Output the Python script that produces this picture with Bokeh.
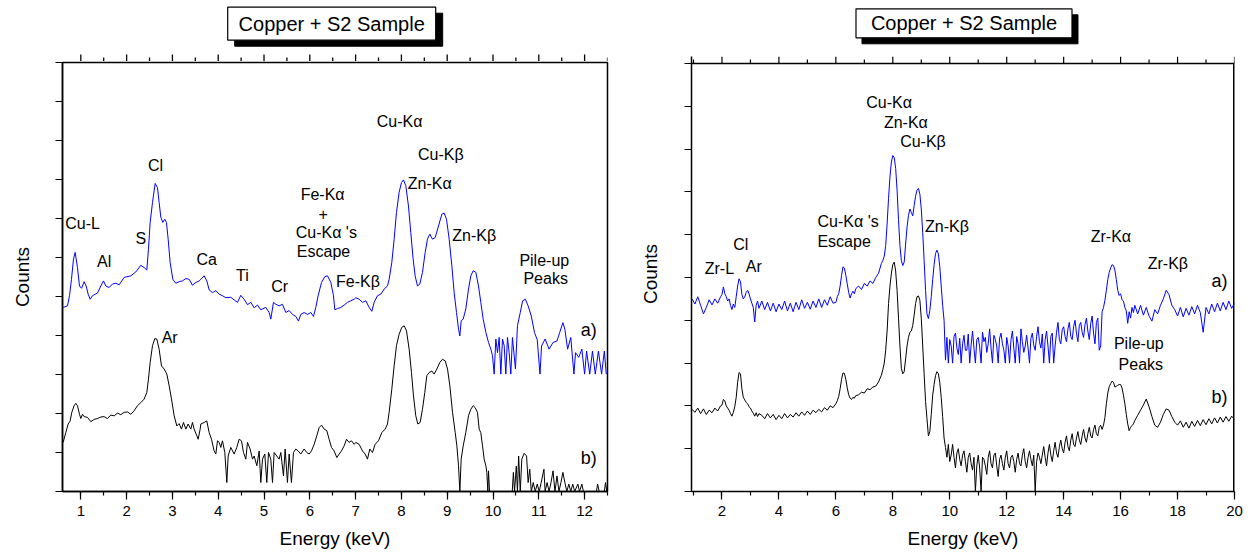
from bokeh.plotting import figure
from bokeh.layouts import row, column
from bokeh.models import Range1d, SingleIntervalTicker, ColumnDataSource
from bokeh.core.properties import value
from bokeh.embed import file_html
from bokeh.resources import INLINE

FONT = "Liberation Sans"

# ---------------- LEFT PANEL DATA (0.6 - 12.5 keV) ----------------
left_a_energy = [0.614,0.709,0.753,0.796,0.840,0.876,0.927,0.971,1.015,1.073,1.116,1.160,1.204,1.255,1.364,1.437,1.495,1.546,1.619,1.691,
 1.764,1.837,1.946,2.092,2.201,2.310,2.383,2.441,2.477,2.514,2.565,2.623,2.674,2.710,2.747,2.790,2.834,2.870,2.907,2.951,
 3.009,3.074,3.147,3.220,3.293,3.365,3.438,3.511,3.584,3.620,3.693,3.751,3.802,3.875,3.948,4.020,4.093,4.166,4.275,4.348,
 4.421,4.493,4.566,4.639,4.712,4.785,4.857,4.930,5.039,5.112,5.148,5.207,5.258,5.330,5.403,5.476,5.549,5.622,5.694,5.753,
 5.803,5.876,5.949,6.022,6.080,6.131,6.182,6.255,6.328,6.386,6.459,6.517,6.546,6.604,6.677,6.750,6.823,6.896,6.968,7.004,
 7.077,7.150,7.223,7.296,7.354,7.404,7.477,7.550,7.623,7.696,7.732,7.790,7.841,7.892,7.950,8.001,8.045,8.096,8.154,8.205,
 8.256,8.300,8.351,8.402,8.460,8.519,8.569,8.620,8.679,8.737,8.810,8.883,8.934,8.985,9.043,9.101,9.152,9.203,9.247,9.276,
 9.305,9.349,9.406,9.465,9.516,9.567,9.625,9.683,9.734,9.785,9.844,9.902,9.953,9.989,10.025,10.062,10.098,10.135,10.171,10.207,
 10.244,10.280,10.316,10.353,10.389,10.425,10.490,10.534,10.595,10.647,10.707,10.767,10.836,10.905,10.966,11.026,11.060,11.138,11.224,11.310,
 11.397,11.457,11.526,11.569,11.629,11.698,11.767,11.802,11.871,11.940,12.000,12.043,12.112,12.172,12.233,12.302,12.371,12.431,12.474]
left_a_counts = [4.72,4.76,5.02,5.44,5.96,6.13,5.74,5.27,5.21,5.38,5.27,5.06,4.93,5.02,5.09,5.27,5.40,5.27,5.23,5.32,
 5.34,5.30,5.49,5.53,5.63,5.80,5.74,5.68,6.21,6.90,7.41,7.90,7.79,7.41,7.03,6.90,6.98,6.90,6.47,5.87,
 5.44,5.34,5.38,5.40,5.46,5.44,5.29,5.36,5.40,5.44,5.53,5.40,5.17,5.10,5.15,5.06,5.02,4.97,4.98,4.91,
 4.85,5.03,4.93,4.79,4.85,4.71,4.78,4.66,4.72,4.59,4.42,4.85,4.80,4.76,4.80,4.59,4.64,4.54,4.49,4.37,
 4.54,4.59,4.54,4.59,4.49,4.72,5.02,5.36,5.51,5.53,5.36,5.02,4.66,4.69,4.72,4.78,4.85,4.89,4.93,4.97,
 4.93,4.85,4.89,4.72,4.62,4.85,5.02,5.06,5.19,5.27,5.44,5.87,6.47,7.15,7.67,7.92,7.99,7.84,7.32,6.64,
 5.96,5.53,5.27,5.32,5.62,6.13,6.47,6.60,6.47,6.51,6.81,7.11,7.14,6.98,6.47,5.79,5.10,4.59,4.16,3.99,
 4.38,4.42,4.68,5.19,5.53,5.66,5.62,5.27,4.85,4.42,4.08,3.82,3.65,3.48,3.01,3.91,3.56,3.95,3.01,3.91,
 3.74,3.01,3.95,3.56,3.01,3.95,3.14,4.25,4.59,4.89,4.93,4.76,4.50,4.08,3.89,3.01,3.73,3.91,3.65,3.82,
 3.86,4.08,4.33,4.16,3.65,3.95,3.01,3.56,3.44,3.65,3.01,3.60,3.01,3.60,3.01,3.60,3.01,3.60,3.01]

left_b_energy = [0.614,0.672,0.723,0.767,0.803,0.854,0.891,0.927,0.971,1.000,1.036,1.073,1.146,1.218,1.291,1.364,1.437,1.509,1.582,1.655,
 1.728,1.801,1.873,1.946,2.019,2.092,2.164,2.237,2.310,2.383,2.441,2.477,2.514,2.565,2.616,2.659,2.710,2.761,2.820,2.878,
 2.929,2.980,3.038,3.096,3.147,3.198,3.242,3.293,3.343,3.402,3.438,3.474,3.533,3.562,3.606,3.620,3.693,3.751,3.802,3.853,
 3.911,3.948,3.984,4.020,4.057,4.093,4.144,4.188,4.217,4.275,4.348,4.406,4.457,4.508,4.552,4.603,4.639,4.697,4.748,4.785,
 4.843,4.894,4.930,4.967,5.017,5.061,5.098,5.148,5.185,5.221,5.279,5.330,5.367,5.425,5.461,5.512,5.549,5.599,5.643,5.694,
 5.745,5.803,5.876,5.934,5.985,6.036,6.095,6.153,6.204,6.255,6.313,6.371,6.422,6.473,6.531,6.590,6.640,6.691,6.750,6.801,
 6.858,6.910,6.968,7.004,7.077,7.150,7.208,7.259,7.310,7.368,7.426,7.499,7.572,7.645,7.696,7.732,7.790,7.841,7.892,7.950,
 8.009,8.060,8.111,8.169,8.220,8.264,8.314,8.358,8.409,8.460,8.511,8.555,8.606,8.664,8.715,8.774,8.839,8.897,8.956,9.007,
 9.058,9.116,9.175,9.211,9.247,9.276,9.305,9.349,9.406,9.465,9.516,9.567,9.610,9.661,9.698,9.734,9.771,9.807,9.844,9.865,
 9.887,9.902,9.924,10.420,10.445,10.470,10.509,10.534,10.560,10.595,10.629,10.681,10.733,10.767,10.802,10.836,10.879,10.922,10.966,11.009,
 11.052,11.112,11.138,11.181,11.224,11.267,11.310,11.353,11.397,11.440,11.483,11.526,11.569,11.612,11.655,11.698,11.741,11.784,11.853,11.888,
 11.940,11.974,12.259,12.284,12.319,12.431,12.457,12.483]
left_b_counts = [1.26,1.51,1.73,1.81,2.03,2.20,2.26,2.20,1.98,1.87,1.98,1.92,1.90,1.79,1.85,1.87,1.91,1.92,1.87,1.96,
 1.94,2.01,1.97,2.03,2.04,1.98,2.07,2.20,2.28,2.37,2.54,2.88,3.31,3.74,3.92,3.91,3.65,3.22,3.14,3.01,
 2.71,2.37,1.94,1.68,1.74,1.60,1.77,1.60,1.73,1.60,1.77,1.60,1.43,1.34,1.60,1.73,1.77,1.81,1.51,1.34,
 1.04,0.96,1.30,1.26,1.13,1.30,1.00,0.23,0.91,1.13,0.96,1.13,1.34,1.30,1.00,0.83,1.26,1.09,0.83,0.91,
 0.66,1.04,0.23,0.83,0.96,0.23,1.00,0.83,0.23,1.00,0.91,0.83,1.00,0.40,1.09,0.23,0.96,0.23,1.00,1.09,
 1.04,0.96,1.09,1.00,0.96,1.04,1.21,1.43,1.64,1.70,1.60,1.56,1.34,1.13,1.04,0.87,0.96,1.04,1.17,1.34,
 1.26,1.30,1.21,1.26,1.21,1.04,0.96,0.83,1.09,1.00,1.21,1.30,1.51,1.60,1.73,2.03,2.62,3.22,3.74,4.03,
 4.21,4.25,4.12,3.65,3.05,2.45,1.94,1.73,1.77,2.11,2.54,2.97,3.05,3.09,3.01,3.14,3.31,3.39,3.35,3.14,
 2.71,2.03,1.51,1.17,0.66,0.00,0.83,1.17,1.51,1.94,2.11,2.20,2.15,2.03,1.60,1.51,1.17,0.83,0.66,0.49,
 0.00,0.53,0.00,0.00,0.49,0.00,0.65,0.00,0.91,0.00,0.83,0.98,0.91,0.23,0.57,0.00,0.23,0.00,0.19,0.00,
 0.23,0.57,0.00,0.23,0.00,0.23,0.53,0.00,0.40,0.00,0.23,0.49,0.23,0.00,0.19,0.00,0.19,0.00,0.19,0.00,
 0.19,0.00,0.00,0.19,0.00,0.00,0.23,0.00]

# ---------------- RIGHT PANEL DATA (0.93 - 20 keV), three energy stretches ----------------
right_energy_low = [0.95,1.05,1.15,1.25,1.35,1.45,1.55,1.65,1.75,1.85,1.95,
 2.00,2.05,2.10,2.15,2.20,2.25,2.30,2.35,2.40,2.45,2.50,2.55,2.60,2.65,2.70,2.75,2.80,2.85,2.90,2.95,3.00,3.05,3.10,3.15,3.20,3.25,3.30,
 3.4,3.5,3.6,3.7,3.8,3.9,4.0,4.1,4.2,4.3,4.4,4.5,4.6,4.7,4.8,4.9,5.0,5.1,5.2,5.3,5.4,5.5,5.6,5.7,5.8,5.9,
 6.00,6.05,6.10,6.15,6.20,6.25,6.30,6.35,6.40,6.45,6.50,6.55,6.60,6.65,6.70,
 6.8,6.9,7.0,7.1,7.2,7.3,7.4,7.5,7.6,
 7.65,7.70,7.75,7.80,7.85,7.90,7.95,8.00,8.05,8.10,8.15,8.20,8.25,8.30,8.35,8.40,8.45,8.50,8.55,8.60,8.65,8.70,8.75,8.80,
 8.85,8.90,8.95,9.00,9.05,9.10,9.15,9.20,9.25,9.30,9.35,9.40,9.45,9.50,9.55,9.60,9.65,9.70,9.75,9.80,9.85,9.90,9.95]
right_a_low = [4.50,4.38,4.55,4.35,4.15,4.30,4.48,4.36,4.50,4.40,4.55,
 4.60,4.78,4.62,4.55,4.45,4.50,4.35,4.25,4.38,4.30,4.55,4.80,4.97,4.90,4.60,4.50,4.55,4.65,4.70,4.62,4.50,4.40,4.30,3.96,4.35,4.45,4.28,
 4.45,4.25,4.42,4.22,4.40,4.20,4.38,4.25,4.45,4.22,4.40,4.20,4.42,4.25,4.48,4.28,4.42,4.26,4.45,4.30,4.50,4.30,4.48,4.35,4.55,4.40,
 4.42,4.55,4.62,4.80,5.05,5.25,5.22,5.05,4.85,4.65,4.52,4.62,4.68,4.62,4.74,
 4.80,4.72,4.86,4.80,4.92,4.86,5.00,5.10,5.33,
 5.40,5.50,5.75,6.25,6.85,7.35,7.70,7.85,7.80,7.55,7.04,6.35,5.75,5.40,5.28,5.36,5.78,6.18,6.45,6.60,6.52,6.44,6.68,6.90,
 7.04,7.08,6.95,6.60,6.05,5.40,4.70,4.15,4.04,4.23,4.55,4.95,5.30,5.56,5.64,5.55,5.25,4.80,4.35,4.00,3.07,3.60,3.00]
right_b_low = [1.92,1.85,1.95,1.82,1.93,1.80,1.90,1.84,1.95,1.88,2.00,
 2.02,2.15,2.12,2.00,1.95,1.90,1.82,1.76,1.85,1.98,2.20,2.55,2.78,2.75,2.40,2.20,2.14,2.08,2.05,1.98,1.95,1.88,1.83,1.76,1.84,1.75,1.82,
 1.78,1.70,1.82,1.72,1.80,1.68,1.78,1.70,1.82,1.72,1.80,1.74,1.84,1.76,1.86,1.78,1.88,1.80,1.90,1.84,1.92,1.86,1.96,1.90,2.00,1.96,
 2.05,2.12,2.22,2.40,2.62,2.77,2.76,2.62,2.42,2.26,2.18,2.15,2.20,2.18,2.24,
 2.26,2.32,2.30,2.40,2.38,2.44,2.46,2.56,2.72,
 2.85,3.00,3.30,3.75,4.39,4.80,5.10,5.30,5.36,5.15,4.70,4.05,3.40,2.88,2.75,2.80,3.10,3.40,3.60,3.72,3.75,3.88,4.12,4.39,
 4.55,4.57,4.47,4.05,3.40,2.75,2.10,1.70,1.30,1.40,1.80,2.25,2.50,2.71,2.80,2.75,2.55,2.20,1.75,1.25,1.03,0.80,1.10]

right_energy_noise = [10.00,10.05,10.10,10.15,10.20,10.25,10.30,10.35,10.40,10.45,10.50,10.55,10.60,10.65,10.70,10.75,10.80,10.85,10.90,10.95,
 11.00,11.05,11.10,11.15,11.20,11.25,11.30,11.35,11.40,11.45,11.50,11.55,11.60,11.65,11.70,11.75,11.80,11.85,11.90,11.95,
 12.00,12.05,12.10,12.15,12.20,12.25,12.30,12.35,12.40,12.45,12.50,12.55,12.60,12.65,12.70,12.75,12.80,12.85,12.90,12.95,
 13.00,13.05,13.10,13.15,13.20,13.25,13.30,13.35,13.40,13.45,13.50,13.55,13.60,13.65,13.70,13.75,13.80,13.85,13.90,13.95,
 14.00,14.05,14.10,14.15,14.20,14.25,14.30,14.35,14.40,14.45,14.50,14.55,14.60,14.65,14.70,14.75,14.80,14.85,14.90,14.95,
 15.00,15.05,15.10,15.15,15.20,15.25,15.30]
right_a_noise = [3.55,3.40,3.00,3.62,3.70,3.35,3.20,3.58,3.00,3.45,3.65,3.30,3.30,3.68,3.00,3.42,3.75,3.35,3.00,3.55,
 3.60,3.38,3.00,3.72,3.50,3.60,3.25,3.45,3.80,3.35,3.00,3.65,3.55,3.40,3.00,3.58,3.70,3.45,3.30,3.00,
 3.60,3.40,3.00,3.55,3.75,3.35,3.00,3.62,3.45,3.00,3.80,3.50,3.25,3.40,3.65,3.35,3.00,3.58,3.70,3.42,
 3.30,3.62,3.85,3.50,3.35,3.68,3.00,3.55,3.75,3.40,3.00,3.62,3.70,3.00,3.40,3.72,3.95,3.55,3.45,3.78,
 3.85,3.62,3.50,3.80,3.95,3.62,3.55,3.85,4.00,3.70,3.50,3.88,3.95,3.72,3.60,3.90,4.05,3.75,3.55,3.92,
 4.10,3.70,3.45,3.95,4.05,3.30,3.40]
right_b_noise = [0.70,0.85,1.10,0.80,0.55,0.90,1.00,0.75,0.60,0.85,0.95,0.70,0.45,0.80,0.90,0.65,0.50,0.80,0.00,0.60,
 0.85,0.55,0.00,0.80,0.75,0.60,0.40,0.80,0.95,0.65,0.55,0.85,0.90,0.60,0.35,0.75,0.85,0.65,0.50,0.80,
 0.95,0.65,0.55,0.80,0.85,0.70,0.45,0.75,0.90,0.65,0.60,0.85,1.00,0.70,0.55,0.80,0.95,0.75,0.60,0.85,
 0.00,0.70,0.90,0.80,0.65,0.85,1.05,0.80,0.60,0.90,1.10,0.85,0.70,0.95,1.15,0.90,0.80,1.05,1.20,1.00,
 0.90,1.15,1.30,1.05,0.95,1.20,1.35,1.10,1.05,1.25,1.40,1.20,1.10,1.30,1.45,1.25,1.15,1.35,1.50,1.30,
 1.25,1.45,1.55,1.35,1.30,1.50,1.55]

right_energy_high = [15.35,15.40,15.45,15.50,15.55,15.60,15.65,15.70,15.75,15.80,15.85,15.90,15.95,16.00,16.05,16.10,16.15,16.20,16.25,16.30,16.35,16.40,16.45,16.50,
 16.6,16.7,16.8,16.9,17.0,17.1,17.2,17.3,17.4,17.5,17.6,17.7,17.8,17.9,18.0,18.1,18.2,18.3,18.4,18.5,
 18.6,18.7,18.8,18.9,19.0,19.1,19.2,19.3,19.4,19.5,19.6,19.7,19.8,19.9,20.0]
right_a_high = [4.20,4.30,4.47,4.70,4.95,5.12,5.22,5.30,5.28,5.17,4.95,4.70,4.58,4.62,4.48,4.45,4.30,4.22,3.93,4.20,4.05,4.30,4.18,4.35,
 4.15,4.35,4.12,4.30,4.10,3.98,4.25,4.15,4.35,4.50,4.70,4.60,4.35,4.25,4.10,4.30,4.08,4.28,4.12,4.32,
 4.15,4.35,4.18,3.72,4.30,4.15,4.38,4.20,4.40,4.22,4.42,4.25,4.45,4.28,4.40]
right_b_high = [1.45,1.55,1.73,2.05,2.30,2.45,2.52,2.58,2.55,2.44,2.46,2.48,2.50,2.50,2.42,2.25,2.05,1.80,1.58,1.42,1.50,1.54,1.58,1.66,
 1.78,1.90,2.02,2.16,1.98,1.75,1.55,1.50,1.62,1.80,1.93,1.90,1.75,1.62,1.55,1.65,1.50,1.62,1.48,1.64,
 1.52,1.66,1.54,1.68,1.56,1.70,1.58,1.72,1.60,1.74,1.62,1.75,1.64,1.76,1.68]

right_energy = right_energy_low + right_energy_noise + right_energy_high
right_a_counts = right_a_low + right_a_noise + right_a_high
right_b_counts = right_b_low + right_b_noise + right_b_high

# ---------------- TICKS (top axis) ----------------
left_major_ticks = [1, 2, 3, 4, 5, 6, 7, 8, 9, 10, 11, 12]
left_minor_ticks = [1.5, 2.5, 3.5, 4.5, 5.5, 6.5, 7.5, 8.5, 9.5, 10.5, 11.5, 12.5]
right_major_ticks = [2, 4, 6, 8, 10, 12, 14, 16, 18, 20]
right_minor_ticks = [1, 3, 5, 7, 9, 11, 13, 15, 17, 19]

# ---------------- ANNOTATIONS ----------------
left_notes_text = ["Cu-L", "Al", "S", "Cl", "Ca", "Ti", "Cr", "Fe-K\u03b1", "+", "Cu-K\u03b1 's", "Escape",
                   "Fe-K\u03b2", "Cu-K\u03b1", "Cu-K\u03b2", "Zn-K\u03b1", "Zn-K\u03b2", "Pile-up", "Peaks", "Ar"]
left_notes_x = [1.04, 1.51, 2.31, 2.63, 3.75, 4.53, 5.34, 6.28, 6.29, 6.36, 6.30,
                7.05, 7.96, 8.86, 8.62, 9.59, 11.12, 11.15, 2.94]
left_notes_y = [6.87, 5.89, 6.49, 8.37, 5.96, 5.55, 5.26, 7.62, 7.11, 6.64, 6.16,
                5.38, 9.50, 8.65, 7.91, 6.57, 5.93, 5.47, 3.96]
left_tags = ["a)", "b)"]
left_tags_x = [12.09, 12.09]
left_tags_y = [4.14, 0.85]

right_notes_text = ["Zr-L", "Cl", "Ar", "Cu-K\u03b1 's", "Escape", "Cu-K\u03b1", "Zn-K\u03b1", "Cu-K\u03b2",
                    "Zn-K\u03b2", "Zr-K\u03b1", "Zr-K\u03b2", "Pile-up", "Peaks"]
right_notes_x = [1.91, 2.66, 3.12, 6.43, 6.29, 7.87, 8.46, 9.06, 9.90, 15.66, 17.66, 16.64, 16.71]
right_notes_y = [5.20, 5.76, 5.26, 6.32, 5.83, 9.09, 8.62, 8.17, 6.19, 5.96, 5.33, 3.45, 2.96]
right_tags = ["a)", "b)"]
right_tags_x = [19.47, 19.47]
right_tags_y = [4.92, 2.20]

title_text = "Copper + S2 Sample"

TOTAL_H = 554


def style_axis(ax):
    ax.axis_line_width = 1.5
    ax.axis_line_color = "black"
    ax.major_tick_line_width = 1.2
    ax.minor_tick_line_width = 1.2
    ax.major_tick_line_color = "black"
    ax.minor_tick_line_color = "black"
    ax.major_tick_in = 0
    ax.major_tick_out = 7
    ax.minor_tick_in = 0
    ax.minor_tick_out = 4
    ax.major_label_text_font = FONT
    ax.major_label_text_font_size = "15px"
    ax.major_label_text_color = "black"
    ax.axis_label_text_font = FONT
    ax.axis_label_text_font_size = "19px"
    ax.axis_label_text_font_style = "normal"
    ax.axis_label_text_color = "black"


def make_header(width, head_h, xr, bl, br, box_x, box_top, bw, bh, sdx_px, sdy_px, majors, minors):
    h = figure(width=width, height=head_h, x_range=Range1d(*xr), y_range=Range1d(0, head_h),
               output_backend="svg", toolbar_location=None, title=None,
               x_axis_location=None, y_axis_location=None,
               min_border_left=bl, min_border_right=br, min_border_top=0, min_border_bottom=0,
               background_fill_color="white", border_fill_color="white")
    h.outline_line_color = None
    h.grid.visible = False
    kev_per_px = (xr[1] - xr[0]) / (width - bl - br)
    cy = head_h - box_top - bh / 2.0
    h.rect(x=[box_x + sdx_px * kev_per_px], y=[cy - sdy_px], width=bw, height=bh,
           width_units="screen", height_units="screen", fill_color="black", line_color="black")
    h.rect(x=[box_x], y=[cy], width=bw, height=bh, width_units="screen", height_units="screen",
           fill_color="white", line_color="black", line_width=1.2)
    h.text(x=[box_x], y=[cy], text=[title_text], text_font=value(FONT), text_font_size=value("20px"),
           text_align="center", text_baseline="middle", text_color="black")
    if majors:
        # top-axis tick marks (thin bars), pointing outward (up) from the frame
        h.rect(x=majors, y=[3.5] * len(majors), width=1.3, height=7,
               width_units="screen", height_units="screen", fill_color="black", line_color=None)
        h.rect(x=minors, y=[2.0] * len(minors), width=1.3, height=4,
               width_units="screen", height_units="screen", fill_color="black", line_color=None)
    return h


def make_panel(width, height, xr, yr, borders, xint, ystand, series, notes, tags, inner_top=None):
    bl, br, bt, bb = borders
    p = figure(width=width, height=height, x_range=Range1d(*xr), y_range=Range1d(*yr),
               output_backend="svg", toolbar_location=None, title=None,
               x_axis_location="below", y_axis_location="left",
               min_border_left=bl, min_border_right=br, min_border_top=bt, min_border_bottom=bb,
               background_fill_color="white", border_fill_color="white")
    p.grid.visible = False

    bottom = p.xaxis[0]
    bottom.ticker = SingleIntervalTicker(interval=xint, num_minor_ticks=2)
    bottom.axis_label = "Energy (keV)"
    style_axis(bottom)
    bottom.major_tick_out = 8
    bottom.major_label_standoff = 6
    bottom.axis_label_standoff = 9

    left = p.yaxis[0]
    left.ticker = SingleIntervalTicker(interval=1, num_minor_ticks=0)
    left.axis_label = "Counts"
    style_axis(left)
    left.major_label_text_font_size = "2px"
    left.major_label_text_alpha = 0
    left.major_label_text_color = None
    left.major_label_standoff = 0
    left.minor_tick_out = 0
    left.axis_label_standoff = ystand

    if inner_top is None:
        p.outline_line_color = "black"
        p.outline_line_width = 1.5
        p.outline_line_alpha = 1.0
    else:
        # frame top sits below the range end so the outward top ticks fit inside the drawing area
        y_top, majors, minors, major_len, minor_len = inner_top
        p.outline_line_color = None
        p.segment(x0=[xr[0]], y0=[y_top], x1=[xr[1]], y1=[y_top], line_color="black", line_width=1.5)
        p.segment(x0=[xr[1]], y0=[yr[0]], x1=[xr[1]], y1=[y_top], line_color="black", line_width=3)
        p.segment(x0=majors, y0=[y_top] * len(majors), x1=majors, y1=[y_top + major_len] * len(majors),
                  line_color="black", line_width=1.2)
        p.segment(x0=minors, y0=[y_top] * len(minors), x1=minors, y1=[y_top + minor_len] * len(minors),
                  line_color="black", line_width=1.2)

    for (xs, ys, color) in series:
        p.line(xs, ys, line_color=color, line_width=1)

    nt, nx, ny = notes
    src = ColumnDataSource(dict(x=nx, y=ny, t=nt))
    p.text(x="x", y="y", text="t", source=src, text_font=value(FONT),
           text_font_size=value("16px"), text_align="center", text_baseline="middle",
           text_color="black")
    tt, tx, ty = tags
    src2 = ColumnDataSource(dict(x=tx, y=ty, t=tt))
    p.text(x="x", y="y", text="t", source=src2, text_font=value(FONT),
           text_font_size=value("18px"), text_align="center", text_baseline="middle",
           text_color="black")
    return p


H1 = 61
h1 = make_header(636, H1, (0.6, 12.5), 62, 29, 6.478, 6.7, 208, 33, 7, 6,
                 left_major_ticks, left_minor_ticks)
p1 = make_panel(636, TOTAL_H - H1, (0.6, 12.5), (0, 11), (62, 29, 1, 63), 1, 23,
                [(left_a_energy, left_a_counts, "#0000ff"), (left_b_energy, left_b_counts, "black")],
                (left_notes_text, left_notes_x, left_notes_y),
                (left_tags, left_tags_x, left_tags_y))

# right panel: 10 count units over 428 px -> 42.8 px per unit; 7 px of tick room above the frame
H2 = 55
R_UNIT_PX = 42.8
h2 = make_header(616, H2, (0.93, 20), 54, 18, 10.5, 8.3, 216, 29, 6, 6, [], [])
p2 = make_panel(616, TOTAL_H - H2, (0.93, 20), (0, 10 + 7 / R_UNIT_PX), (54, 18, 1, 63), 2, 24,
                [(right_energy, right_a_counts, "#0000ff"), (right_energy, right_b_counts, "black")],
                (right_notes_text, right_notes_x, right_notes_y),
                (right_tags, right_tags_x, right_tags_y),
                inner_top=(10, right_major_ticks, right_minor_ticks, 7 / R_UNIT_PX, 4 / R_UNIT_PX))

layout = row(column(h1, p1), column(h2, p2))
open("out.html", "w").write(file_html(layout, INLINE))
